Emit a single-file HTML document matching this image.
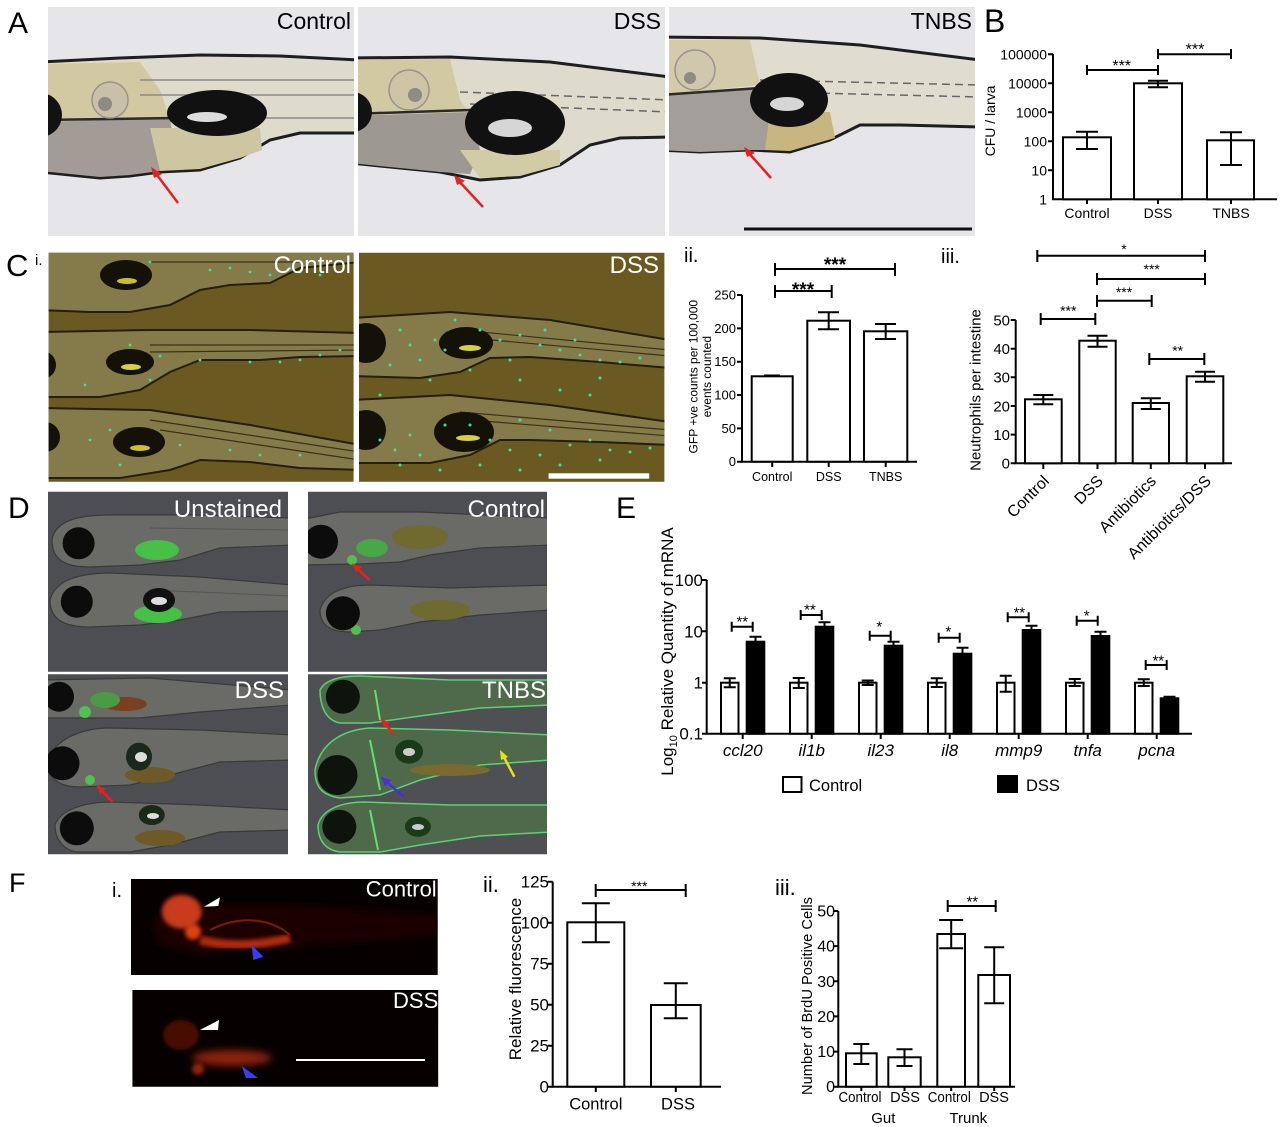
<!DOCTYPE html>
<html><head><meta charset="utf-8"><style>
html,body{margin:0;padding:0;background:#fff;}
svg{display:block;}
text{font-family:"Liberation Sans",Arial,sans-serif;}
</style></head><body>
<svg width="1280" height="1127" viewBox="0 0 1280 1127" xmlns="http://www.w3.org/2000/svg">
<defs>
<clipPath id="cA1"><rect x="48" y="7" width="306" height="229"/></clipPath>
<clipPath id="cA2"><rect x="358" y="7" width="307" height="229"/></clipPath>
<clipPath id="cA3"><rect x="669" y="7" width="306" height="229"/></clipPath>
<clipPath id="cC1"><rect x="48.6" y="252.7" width="305" height="229"/></clipPath>
<clipPath id="cC2"><rect x="359" y="252.7" width="305.4" height="229"/></clipPath>
<clipPath id="cD1"><rect x="48" y="491.7" width="240" height="180"/></clipPath>
<clipPath id="cD2"><rect x="308" y="491.7" width="239" height="180"/></clipPath>
<clipPath id="cD3"><rect x="48" y="674.3" width="240" height="180"/></clipPath>
<clipPath id="cD4"><rect x="308" y="674.3" width="239" height="180"/></clipPath>
<clipPath id="cF1"><rect x="131" y="879" width="306.7" height="96"/></clipPath>
<clipPath id="cF2"><rect x="132.3" y="990" width="306" height="96.7"/></clipPath>
<filter id="bl4" x="-50%" y="-50%" width="200%" height="200%"><feGaussianBlur stdDeviation="4"/></filter>
<filter id="bl2" x="-50%" y="-50%" width="200%" height="200%"><feGaussianBlur stdDeviation="2"/></filter>
</defs>
<rect width="1280" height="1127" fill="#fff"/>

<!-- Panel letters -->
<g font-size="30" fill="#000">
<text x="8" y="33">A</text>
<text x="984" y="32" font-size="32">B</text>
<text x="6" y="276" font-size="31">C</text>
<text x="8" y="518">D</text>
<text x="616" y="518">E</text>
<text x="9" y="892" font-size="27">F</text>
</g>

<!-- ===== Panel A photos ===== -->
<g clip-path="url(#cA1)">
<rect x="48" y="7" width="306" height="229" fill="#e6e6ea"/>
<path d="M40,62 L120,58 L200,55 L280,56 L360,60 L360,133 L300,133 L270,140 L240,158 L200,170 L160,172 L130,176 L100,178 L80,176 L40,172 Z" fill="#dedbcc" stroke="#1e1e1e" stroke-width="3"/>
<path d="M40,64 L140,62 L160,90 L170,120 L40,125 Z" fill="#d2c8a2"/>
<path d="M40,122 L170,118 L175,150 L160,171 L130,175 L100,177 L80,175 L40,171 Z" fill="#a29b96"/>
<path d="M150,128 L260,128 L262,150 L240,158 L200,169 L160,171 Z" fill="#cec6a0"/>
<path d="M140,80 L360,80 M140,95 L360,95 M160,118 L360,118" stroke="#8a8a8a" stroke-width="1.5" fill="none"/>
<path d="M40,120 L175,118" stroke="#2a2a2a" stroke-width="2.5"/>
<circle cx="40" cy="115" r="22" fill="#121212"/>
<circle cx="110" cy="100" r="18" fill="#c8c0a8" stroke="#9a9488" stroke-width="1.5"/>
<circle cx="105" cy="104" r="7" fill="#8f8a84"/>
<ellipse cx="217" cy="113" rx="50" ry="23" fill="#111"/>
<ellipse cx="207" cy="117" rx="20" ry="5" fill="#ddd"/>
<text x="351" y="29" font-size="23" text-anchor="end" fill="#000">Control</text>
<path d="M178,203 L154,171" stroke="#e8201e" stroke-width="2.5"/>
<path d="M151,167 L162,174 L154,178 Z" fill="#e8201e"/>
</g>
<g clip-path="url(#cA2)">
<rect x="358" y="7" width="307" height="229" fill="#e6e6ea"/>
<path d="M350,58 L450,57 L550,62 L670,77 L670,137 L620,138 L590,145 L560,165 L520,177 L480,180 L440,172 L400,168 L350,163 Z" fill="#dedbcc" stroke="#1e1e1e" stroke-width="3"/>
<path d="M350,60 L450,59 L460,100 L470,115 L350,118 Z" fill="#d2c8a2"/>
<path d="M350,116 L470,112 L480,150 L470,174 L440,172 L400,168 L350,163 Z" fill="#9e9893"/>
<path d="M460,150 L560,150 L560,165 L520,176 L480,178 Z" fill="#d2cca6"/>
<path d="M460,92 L670,100 M470,104 L670,112" stroke="#666" stroke-width="1.5" stroke-dasharray="8 5" fill="none"/>
<path d="M350,114 L470,110" stroke="#2a2a2a" stroke-width="2.5"/>
<circle cx="352" cy="112" r="20" fill="#121212"/>
<circle cx="409" cy="90" r="20" fill="#cdc4a6" stroke="#9a9488" stroke-width="1.5"/>
<circle cx="415" cy="95" r="7" fill="#8f8a84"/>
<ellipse cx="515" cy="123" rx="50" ry="32" fill="#111"/>
<ellipse cx="510" cy="128" rx="22" ry="9" fill="#d6d6d6"/>
<text x="661" y="29" font-size="23" text-anchor="end" fill="#000">DSS</text>
<path d="M483,207 L457,179" stroke="#e8201e" stroke-width="2.5"/>
<path d="M454,175 L465,181 L457,185 Z" fill="#e8201e"/>
</g>
<g clip-path="url(#cA3)">
<rect x="669" y="7" width="306" height="229" fill="#e6e6ea"/>
<path d="M660,37 L760,38 L860,45 L980,60 L980,127 L900,125 L860,125 L830,140 L790,152 L750,150 L700,152 L660,150 Z" fill="#e0ddd0" stroke="#1e1e1e" stroke-width="3"/>
<path d="M660,40 L750,40 L760,85 L660,95 Z" fill="#d4cbaa"/>
<path d="M660,95 L760,88 L775,120 L770,150 L750,150 L700,152 L660,150 Z" fill="#a49e9a"/>
<path d="M770,112 L830,112 L835,138 L790,151 L765,150 Z" fill="#c8b680"/>
<path d="M760,80 L980,85 M770,92 L980,97" stroke="#666" stroke-width="1.5" stroke-dasharray="8 5" fill="none"/>
<path d="M660,95 L760,88" stroke="#2a2a2a" stroke-width="2.5"/>
<circle cx="695" cy="70" r="20" fill="#d0c8ac" stroke="#9a9488" stroke-width="1.5"/>
<circle cx="690" cy="78" r="6" fill="#8f8a84"/>
<ellipse cx="789" cy="100" rx="39" ry="27" fill="#111"/>
<ellipse cx="787" cy="104" rx="17" ry="7" fill="#d6d6d6"/>
<text x="972" y="29" font-size="23" text-anchor="end" fill="#000">TNBS</text>
<path d="M771,178 L747,151" stroke="#e8201e" stroke-width="2.5"/>
<path d="M744,147 L755,153 L747,157 Z" fill="#e8201e"/>
<path d="M744,229 H972" stroke="#111" stroke-width="3"/>
</g>

<!-- ===== Panel B chart ===== -->
<g stroke="#000" stroke-width="2" fill="none">
<path d="M1053,54 V199.3 H1277"/>
<path d="M1048,54.3H1053 M1048,83.3H1053 M1048,112.3H1053 M1048,141.3H1053 M1048,170.3H1053 M1087,199.3V204 M1158,199.3V204 M1231,199.3V204"/>
<rect x="1063" y="137.3" width="48" height="62" fill="#fff"/>
<rect x="1134" y="83.3" width="48" height="116" fill="#fff"/>
<rect x="1207" y="140.3" width="47" height="59" fill="#fff"/>
<path d="M1087,131.7V149 M1076,131.7H1098 M1076,149H1098"/>
<path d="M1158,80.7V87.3 M1148,80.7H1168 M1148,87.3H1168"/>
<path d="M1231,132.3V165 M1220,132.3H1242 M1220,165H1242"/>
<path d="M1087,70H1158 M1087,65V75 M1158,65V75"/>
<path d="M1158,54.3H1231 M1158,49V59 M1231,49V59"/>
</g>
<g font-size="14" fill="#000" text-anchor="end">
<text x="1047" y="59.3">100000</text>
<text x="1047" y="88.3">10000</text>
<text x="1047" y="117.3">1000</text>
<text x="1047" y="146.3">100</text>
<text x="1047" y="175.3">10</text>
<text x="1047" y="204.3">1</text>
</g>
<g font-size="14" fill="#000" text-anchor="middle">
<text x="1087" y="218">Control</text>
<text x="1158" y="218">DSS</text>
<text x="1231" y="218">TNBS</text>
<text x="1121.7" y="71" font-size="16">***</text>
<text x="1195" y="54.3" font-size="16">***</text>
<text transform="translate(995,121) rotate(-90)">CFU / larva</text>
</g>

<!-- ===== Panel C i photos ===== -->
<text x="35" y="265" font-size="15">i.</text>
<g clip-path="url(#cC1)">
<rect x="48" y="252" width="306" height="230" fill="#6a5a22"/>
<g fill="#857b4a" stroke="#241e0c" stroke-width="2">
<path d="M40,248 L360,248 L360,262 L300,268 L270,283 L230,285 L200,290 L170,305 L130,312 L90,312 L40,310 Z"/>
<path d="M40,332 L150,330 L250,330 L360,333 L360,356 L300,357 L260,360 L200,360 L170,372 L140,390 L100,397 L40,397 Z"/>
<path d="M40,408 L150,410 L250,425 L360,445 L360,470 L300,468 L250,462 L200,460 L170,470 L120,478 L40,478 Z"/>
</g>
<path d="M150,345 L360,345 M150,352 L360,350 M150,420 L360,452 M160,430 L360,460 M150,262 L300,262" stroke="#3a3218" stroke-width="1.2" fill="none"/>
<ellipse cx="126" cy="275" rx="26" ry="15" fill="#141208"/>
<ellipse cx="127" cy="281" rx="10" ry="3" fill="#c8c030"/>
<ellipse cx="130" cy="362" rx="24" ry="13" fill="#141208"/>
<ellipse cx="131" cy="367" rx="10" ry="3" fill="#d8d040"/>
<ellipse cx="139" cy="442" rx="26" ry="15" fill="#141208"/>
<ellipse cx="140" cy="448" rx="10" ry="3" fill="#c8c030"/>
<circle cx="42" cy="365" r="14" fill="#141208"/>
<circle cx="45" cy="437" r="15" fill="#141208"/>
<g fill="#3fe0a0">
<circle cx="210" cy="270" r="1.4"/><circle cx="230" cy="268" r="1.4"/><circle cx="250" cy="272" r="1.4"/><circle cx="270" cy="275" r="1.4"/><circle cx="290" cy="268" r="1.4"/><circle cx="300" cy="272" r="1.4"/><circle cx="320" cy="275" r="1.4"/><circle cx="150" cy="262" r="1.4"/>
<circle cx="130" cy="345" r="1.4"/><circle cx="160" cy="356" r="1.4"/><circle cx="200" cy="360" r="1.4"/><circle cx="250" cy="362" r="1.4"/><circle cx="280" cy="362" r="1.4"/><circle cx="300" cy="360" r="1.4"/><circle cx="320" cy="355" r="1.4"/><circle cx="340" cy="350" r="1.4"/><circle cx="150" cy="380" r="1.4"/><circle cx="85" cy="385" r="1.4"/>
<circle cx="90" cy="440" r="1.4"/><circle cx="110" cy="430" r="1.4"/><circle cx="180" cy="445" r="1.4"/><circle cx="230" cy="450" r="1.4"/><circle cx="260" cy="455" r="1.4"/><circle cx="300" cy="455" r="1.4"/><circle cx="120" cy="465" r="1.4"/>
</g>
<text x="351" y="273" font-size="24" text-anchor="end" fill="#fff">Control</text>
</g>
<g clip-path="url(#cC2)">
<rect x="359" y="252" width="306" height="230" fill="#6a5a22"/>
<g fill="#857b4a" stroke="#241e0c" stroke-width="2">
<path d="M352,318 L450,312 L550,320 L670,340 L670,368 L600,362 L530,357 L490,358 L460,372 L420,378 L352,376 Z"/>
<path d="M352,400 L450,395 L550,405 L670,422 L670,445 L600,442 L530,440 L500,440 L470,455 L430,463 L352,463 Z"/>
</g>
<path d="M460,330 L670,350 M470,338 L670,356 M460,412 L670,430 M470,420 L670,436" stroke="#3a3218" stroke-width="1.2" fill="none"/>
<circle cx="366" cy="343" r="20" fill="#141208"/>
<circle cx="366" cy="430" r="20" fill="#141208"/>
<ellipse cx="466" cy="343" rx="27" ry="16" fill="#141208"/>
<ellipse cx="470" cy="348" rx="11" ry="3" fill="#d8d040"/>
<ellipse cx="464" cy="432" rx="30" ry="20" fill="#141208"/>
<ellipse cx="468" cy="438" rx="12" ry="3" fill="#d8d040"/>
<g fill="#3fe0a0">
<circle cx="400" cy="330" r="1.5"/><circle cx="410" cy="345" r="1.5"/><circle cx="420" cy="360" r="1.5"/><circle cx="435" cy="340" r="1.5"/><circle cx="445" cy="350" r="1.5"/><circle cx="480" cy="330" r="1.5"/><circle cx="500" cy="340" r="1.5"/><circle cx="520" cy="335" r="1.5"/><circle cx="540" cy="345" r="1.5"/><circle cx="560" cy="350" r="1.5"/><circle cx="580" cy="355" r="1.5"/><circle cx="600" cy="360" r="1.5"/><circle cx="620" cy="362" r="1.5"/><circle cx="640" cy="358" r="1.5"/><circle cx="430" cy="380" r="1.5"/><circle cx="470" cy="370" r="1.5"/><circle cx="520" cy="380" r="1.5"/><circle cx="560" cy="390" r="1.5"/><circle cx="590" cy="395" r="1.5"/><circle cx="600" cy="378" r="1.5"/><circle cx="390" cy="365" r="1.5"/><circle cx="380" cy="395" r="1.5"/><circle cx="455" cy="320" r="1.5"/><circle cx="510" cy="360" r="1.5"/><circle cx="545" cy="330" r="1.5"/><circle cx="575" cy="340" r="1.5"/>
<circle cx="380" cy="440" r="1.5"/><circle cx="395" cy="450" r="1.5"/><circle cx="410" cy="435" r="1.5"/><circle cx="420" cy="455" r="1.5"/><circle cx="445" cy="425" r="1.5"/><circle cx="470" cy="425" r="1.5"/><circle cx="490" cy="440" r="1.5"/><circle cx="510" cy="450" r="1.5"/><circle cx="520" cy="420" r="1.5"/><circle cx="550" cy="430" r="1.5"/><circle cx="570" cy="445" r="1.5"/><circle cx="590" cy="440" r="1.5"/><circle cx="610" cy="450" r="1.5"/><circle cx="630" cy="452" r="1.5"/><circle cx="650" cy="448" r="1.5"/><circle cx="540" cy="455" r="1.5"/><circle cx="560" cy="465" r="1.5"/><circle cx="520" cy="470" r="1.5"/><circle cx="400" cy="465" r="1.5"/><circle cx="440" cy="470" r="1.5"/><circle cx="480" cy="465" r="1.5"/><circle cx="600" cy="460" r="1.5"/>
</g>
<rect x="548.6" y="473.3" width="100.6" height="5.4" fill="#fff"/>
<text x="659" y="273" font-size="24" text-anchor="end" fill="#fff">DSS</text>
</g>

<!-- ===== Panel C ii chart ===== -->
<text x="684" y="262" font-size="20">ii.</text>
<g stroke="#000" stroke-width="2" fill="none">
<path d="M742,295 V461.7 H917"/>
<path d="M737,295H742 M737,328.4H742 M737,361.7H742 M737,395H742 M737,428.4H742 M737,461.7H742 M772.2,461.7V467 M828.7,461.7V467 M885.7,461.7V467"/>
<rect x="751.7" y="376.3" width="41" height="85.4" fill="#fff"/>
<rect x="807.3" y="320.7" width="42.7" height="141" fill="#fff"/>
<rect x="864" y="331.3" width="43.3" height="130.4" fill="#fff"/>
<path d="M764,375.5H780"/>
<path d="M828.7,312.3V329.3 M818,312.3H839 M818,329.3H839"/>
<path d="M885.7,324V339 M875,324H896 M875,339H896"/>
<path d="M775,291H831.7 M775,285V298 M831.7,285V298"/>
<path d="M775,269H895 M775,263V276 M895,263V276"/>
</g>
<g font-size="13" text-anchor="end">
<text x="736" y="299.5">250</text>
<text x="736" y="332.9">200</text>
<text x="736" y="366.2">150</text>
<text x="736" y="399.5">100</text>
<text x="736" y="432.9">50</text>
<text x="736" y="466.2">0</text>
</g>
<g font-size="12.5" text-anchor="middle">
<text x="772.2" y="481">Control</text>
<text x="828.7" y="481">DSS</text>
<text x="885.7" y="481">TNBS</text>
<text x="803" y="296" font-size="19" font-weight="bold">***</text>
<text x="835" y="271" font-size="19" font-weight="bold">***</text>
<text transform="translate(697.6,376.7) rotate(-90)" font-size="12">GFP +ve counts per 100,000</text>
<text transform="translate(711,376.7) rotate(-90)" font-size="12">events counted</text>
</g>

<!-- ===== Panel C iii chart ===== -->
<text x="941" y="263" font-size="20">iii.</text>
<g stroke="#000" stroke-width="2" fill="none">
<path d="M1015.7,320 V463.3 H1232"/>
<path d="M1010.7,320H1015.7 M1010.7,348.7H1015.7 M1010.7,377.3H1015.7 M1010.7,406H1015.7 M1010.7,434.6H1015.7 M1010.7,463.3H1015.7 M1043.3,463.3V469 M1097.5,463.3V469 M1150.8,463.3V469 M1205,463.3V469"/>
<rect x="1025" y="399.3" width="36.7" height="64" fill="#fff"/>
<rect x="1079.3" y="340.7" width="36.4" height="122.6" fill="#fff"/>
<rect x="1132.7" y="403" width="36.3" height="60.3" fill="#fff"/>
<rect x="1186.7" y="376.3" width="36.6" height="87" fill="#fff"/>
<path d="M1043.3,395V404.3 M1033.3,395H1053.3 M1033.3,404.3H1053.3"/>
<path d="M1097.5,335.7V346.7 M1087.5,335.7H1107.5 M1087.5,346.7H1107.5"/>
<path d="M1150.8,398.3V409 M1140.8,398.3H1160.8 M1140.8,409H1160.8"/>
<path d="M1205,371.7V381.7 M1195,371.7H1215 M1195,381.7H1215"/>
<path d="M1037.3,255.7H1205 M1037.3,250V262 M1205,250V262"/>
<path d="M1097,279H1205 M1097,273V285 M1205,273V285"/>
<path d="M1097,300.7H1151.7 M1097,295V307 M1151.7,295V307"/>
<path d="M1040.7,319H1095.3 M1040.7,313V325 M1095.3,313V325"/>
<path d="M1149.3,359H1204.3 M1149.3,353V365 M1204.3,353V365"/>
</g>
<g font-size="15" text-anchor="end">
<text x="1010" y="325.4">50</text>
<text x="1010" y="354.1">40</text>
<text x="1010" y="382.7">30</text>
<text x="1010" y="411.4">20</text>
<text x="1010" y="440">10</text>
<text x="1010" y="468.7">0</text>
</g>
<g font-size="16" text-anchor="end">
<text transform="translate(1050,482) rotate(-45)">Control</text>
<text transform="translate(1104,482) rotate(-45)">DSS</text>
<text transform="translate(1157,482) rotate(-45)">Antibiotics</text>
<text transform="translate(1212,482) rotate(-45)">Antibiotics/DSS</text>
</g>
<g font-size="14" text-anchor="middle">
<text x="1124" y="254">*</text>
<text x="1151.7" y="274">***</text>
<text x="1124" y="297">***</text>
<text x="1068.3" y="315.7">***</text>
<text x="1177.7" y="355.3">**</text>
<text transform="translate(980.5,390) rotate(-90)" font-size="15">Neutrophils per intestine</text>
</g>

<!-- ===== Panel D photos ===== -->
<g clip-path="url(#cD1)">
<rect x="48" y="491" width="240" height="181" fill="#4d4e54"/>
<g fill="#6a6a66" stroke="#3a3a36" stroke-width="1.2">
<path d="M52,540 C55,520 80,515 110,515 L200,515 L292,518 L292,545 L220,548 L180,560 L140,565 L90,567 C65,567 52,560 52,540 Z"/>
<path d="M50,600 C55,580 80,573 110,573 L200,577 L292,585 L292,611 L220,612 L180,620 L140,625 L90,627 C65,627 50,620 50,600 Z"/>
</g>
<path d="M150,528 L292,530 M150,590 L292,596" stroke="#555" stroke-width="1" fill="none"/>
<ellipse cx="157" cy="550" rx="22" ry="10" fill="#46c046"/>
<ellipse cx="158" cy="614" rx="24" ry="9" fill="#46c046"/>
<circle cx="78.6" cy="543.3" r="16" fill="#0c0c0c"/>
<circle cx="76.8" cy="601.7" r="16" fill="#0c0c0c"/>
<ellipse cx="159" cy="600" rx="16" ry="12" fill="#111"/>
<ellipse cx="159" cy="601" rx="8" ry="4" fill="#ddd"/>
<text x="282" y="517" font-size="24" text-anchor="end" fill="#fff">Unstained</text>
</g>
<g clip-path="url(#cD2)">
<rect x="308" y="491" width="239" height="181" fill="#4d4e54"/>
<g fill="#6a6a66" stroke="#3a3a36" stroke-width="1.2">
<path d="M300,520 L340,512 L420,512 L551,518 L551,545 L480,548 L430,555 L400,562 L360,564 L300,565 Z"/>
<path d="M320,610 C325,592 345,585 370,585 L450,588 L551,585 L551,610 L480,615 L420,622 L380,630 L350,632 C330,632 320,625 320,610 Z"/>
</g>
<ellipse cx="420" cy="537" rx="28" ry="12" fill="#6e6a30"/>
<ellipse cx="440" cy="610" rx="30" ry="10" fill="#6e6a30"/>
<ellipse cx="372" cy="548" rx="16" ry="9" fill="#48a848"/>
<circle cx="352" cy="560" r="5" fill="#50c050"/>
<circle cx="356" cy="630" r="5" fill="#50c050"/>
<circle cx="321" cy="541.7" r="17" fill="#0c0c0c"/>
<circle cx="342.9" cy="613.3" r="17" fill="#0c0c0c"/>
<path d="M369.6,580 L355,566.5" stroke="#e82020" stroke-width="2.5"/>
<path d="M351.8,563.3 L362,567 L356,572 Z" fill="#e82020"/>
<text x="545" y="517" font-size="24" text-anchor="end" fill="#fff">Control</text>
</g>
<g clip-path="url(#cD3)">
<rect x="48" y="674" width="240" height="181" fill="#4d4e54"/>
<g fill="#6a6a66" stroke="#3a3a36" stroke-width="1.2">
<path d="M40,680 L150,678 L292,690 L292,705 L200,712 L140,718 L40,718 Z"/>
<path d="M48,760 C55,740 80,728 110,728 L200,730 L292,735 L292,760 L220,762 L170,775 L130,785 L80,787 C60,787 48,780 48,760 Z"/>
<path d="M55,825 C60,810 85,802 110,802 L200,805 L292,810 L292,830 L220,832 L170,845 L130,852 L80,852 C65,852 55,840 55,825 Z"/>
</g>
<ellipse cx="125" cy="704" rx="22" ry="7" fill="#7a4020"/>
<ellipse cx="105" cy="700" rx="15" ry="8" fill="#4a9a46"/>
<circle cx="85" cy="712" r="6" fill="#50c050"/>
<circle cx="90" cy="780" r="5" fill="#50c050"/>
<ellipse cx="150" cy="775" rx="25" ry="8" fill="#6e5a28"/>
<ellipse cx="160" cy="838" rx="25" ry="8" fill="#6e5a28"/>
<circle cx="59" cy="696.7" r="15" fill="#0c0c0c"/>
<circle cx="62.5" cy="763.3" r="17" fill="#0c0c0c"/>
<circle cx="76.8" cy="828.3" r="17" fill="#0c0c0c"/>
<ellipse cx="139" cy="756.7" rx="13" ry="14" fill="#1a2a1a"/>
<ellipse cx="141" cy="757" rx="6" ry="5" fill="#ddd"/>
<ellipse cx="151.8" cy="815" rx="13" ry="10" fill="#1a2a1a"/>
<ellipse cx="153" cy="816" rx="6" ry="3" fill="#ddd"/>
<path d="M112.5,801.7 L99,788" stroke="#e82020" stroke-width="2.5"/>
<path d="M96.4,785 L106,789 L100,794 Z" fill="#e82020"/>
<text x="284" y="698" font-size="24" text-anchor="end" fill="#fff">DSS</text>
</g>
<g clip-path="url(#cD4)">
<rect x="308" y="674" width="239" height="181" fill="#4e5054"/>
<g fill="#4f6a4a" stroke="#5fd070" stroke-width="1.5">
<path d="M320,690 C325,680 340,676 360,676 L450,680 L551,680 L551,705 L480,708 L420,716 L370,723 L340,723 C325,720 320,705 320,690 Z"/>
<path d="M315,770 C320,745 340,730 370,728 L450,730 L551,735 L551,760 L480,765 L420,780 L380,795 L340,798 C320,795 315,785 315,770 Z"/>
<path d="M318,825 C322,810 340,802 365,802 L450,805 L551,805 L551,832 L480,836 L420,845 L380,852 L340,852 C325,850 318,840 318,825 Z"/>
</g>
<path d="M375,690 L380,720 M370,740 L380,790 M370,810 L378,850" stroke="#5fe070" stroke-width="2" fill="none"/>
<ellipse cx="450" cy="770" rx="40" ry="6" fill="#7a6a30"/>
<circle cx="342.9" cy="696.7" r="17" fill="#0c140c"/>
<circle cx="337.5" cy="775" r="20" fill="#0c140c"/>
<circle cx="339.3" cy="826.7" r="17" fill="#0c140c"/>
<ellipse cx="409" cy="751.7" rx="14" ry="12" fill="#1a3a1a"/>
<ellipse cx="409" cy="752" rx="6" ry="4" fill="#ccc"/>
<ellipse cx="417.9" cy="826.7" rx="13" ry="10" fill="#1a3a1a"/>
<ellipse cx="418" cy="827" rx="6" ry="3" fill="#ccc"/>
<path d="M394.6,735 L383,721.5" stroke="#e82020" stroke-width="2.5"/>
<path d="M380.4,718.3 L390,723 L384,727 Z" fill="#e82020"/>
<path d="M403.6,796.7 L384,779.5" stroke="#4a2ee0" stroke-width="2.5"/>
<path d="M380.4,776.7 L391,780 L385,786 Z" fill="#4a2ee0"/>
<path d="M514.3,776.7 L502,753.5" stroke="#e8e020" stroke-width="2.5"/>
<path d="M500,750 L508,757 L501,760 Z" fill="#e8e020"/>
<text x="546" y="698" font-size="24" text-anchor="end" fill="#fff">TNBS</text>
</g>

<!-- ===== Panel E chart ===== -->
<g stroke="#000" stroke-width="2" fill="none">
<path d="M706.7,580 V733.7 H1192"/>
<path d="M702,580H706.7 M702,631.3H706.7 M702,682.7H706.7 M702,733.7H706.7 M742.7,733.7V739 M811.7,733.7V739 M880.7,733.7V739 M949.7,733.7V739 M1018.7,733.7V739 M1087.7,733.7V739 M1156.7,733.7V739"/>
<g fill="#fff">
<rect x="721" y="682.7" width="17.5" height="51"/>
<rect x="790" y="682.7" width="17.5" height="51"/>
<rect x="859" y="682.7" width="17.5" height="51"/>
<rect x="928" y="682.7" width="17.5" height="51"/>
<rect x="997" y="682.7" width="17.5" height="51"/>
<rect x="1066" y="682.7" width="17.5" height="51"/>
<rect x="1135" y="682.7" width="17.5" height="51"/>
</g>
<g fill="#000">
<rect x="746.7" y="641.7" width="17.6" height="92"/>
<rect x="815.7" y="626.7" width="17.6" height="107"/>
<rect x="884.7" y="645.7" width="17.6" height="88"/>
<rect x="953.7" y="653.7" width="17.6" height="80"/>
<rect x="1022.7" y="630" width="17.6" height="103.7"/>
<rect x="1091.7" y="636" width="17.6" height="97.7"/>
<rect x="1160.7" y="698.3" width="17.6" height="35.4"/>
</g>
<path d="M729.75,678.3V687.3 M723.75,678.3H735.75 M723.75,687.3H735.75"/>
<path d="M798.75,678V688 M792.75,678H804.75 M792.75,688H804.75"/>
<path d="M867.75,680.5V685 M861.75,680.5H873.75 M861.75,685H873.75"/>
<path d="M936.75,678.3V687 M930.75,678.3H942.75 M930.75,687H942.75"/>
<path d="M1005.75,675.7V691.7 M999.75,675.7H1011.75 M999.75,691.7H1011.75"/>
<path d="M1074.75,679V686 M1068.75,679H1080.75 M1068.75,686H1080.75"/>
<path d="M1143.75,679.3V686 M1137.75,679.3H1149.75 M1137.75,686H1149.75"/>
<path d="M755.5,641.7V636.7 M749.5,636.7H761.5"/>
<path d="M824.5,626.7V622.3 M818.5,622.3H830.5"/>
<path d="M893.5,645.7V641.7 M887.5,641.7H899.5"/>
<path d="M962.5,653.7V647.7 M956.5,647.7H968.5"/>
<path d="M1031.5,630V625.7 M1025.5,625.7H1037.5"/>
<path d="M1100.5,636V631.7 M1094.5,631.7H1106.5"/>
<path d="M1169.5,698.3V696.7 M1163.5,696.7H1175.5"/>
<path d="M731.7,626.7H752.7 M731.7,621.7V631.7 M752.7,621.7V631.7"/>
<path d="M800.7,615H821.7 M800.7,610V620 M821.7,610V620"/>
<path d="M869.7,635.7H890.7 M869.7,630.7V640.7 M890.7,630.7V640.7"/>
<path d="M938.7,637.7H959.7 M938.7,632.7V642.7 M959.7,632.7V642.7"/>
<path d="M1007.7,617.3H1028.7 M1007.7,612.3V622.3 M1028.7,612.3V622.3"/>
<path d="M1076.7,620.7H1097.7 M1076.7,615.7V625.7 M1097.7,615.7V625.7"/>
<path d="M1145.7,665H1166.7 M1145.7,660V670 M1166.7,660V670"/>
<rect x="783" y="777" width="18.5" height="15" fill="#fff"/>
<rect x="998" y="776" width="19" height="16" fill="#000"/>
</g>
<g font-size="17" text-anchor="end">
<text x="703" y="586">100</text>
<text x="703" y="637.3">10</text>
<text x="703" y="688.7">1</text>
<text x="703" y="739.7">0.1</text>
</g>
<g font-size="17" text-anchor="middle" font-style="italic">
<text x="742.7" y="756">ccl20</text>
<text x="811.7" y="756">il1b</text>
<text x="880.7" y="756">il23</text>
<text x="949.7" y="756">il8</text>
<text x="1018.7" y="756">mmp9</text>
<text x="1087.7" y="756">tnfa</text>
<text x="1156.7" y="756">pcna</text>
</g>
<g font-size="15" text-anchor="middle">
<text x="742.3" y="626.7">**</text>
<text x="810" y="614.7">**</text>
<text x="879.3" y="631.4">*</text>
<text x="948.3" y="636.7">*</text>
<text x="1019.3" y="617.7">**</text>
<text x="1086.7" y="620.4">*</text>
<text x="1158.3" y="665.4">**</text>
</g>
<text x="809" y="791" font-size="16.5">Control</text>
<text x="1026" y="791" font-size="16.5">DSS</text>
<text transform="translate(672.8,651.5) rotate(-90)" font-size="17" text-anchor="middle">Log<tspan font-size="11" dy="4">10</tspan><tspan dy="-4"> Relative Quantity of mRNA</tspan></text>

<!-- ===== Panel F i photos ===== -->
<text x="112" y="897" font-size="20">i.</text>
<g clip-path="url(#cF1)">
<rect x="131" y="879" width="307" height="96" fill="#060000"/>
<path d="M150,920 L200,905 L300,905 L437,915 L437,935 L320,945 L260,950 L200,955 L160,945 Z" fill="#1c0402" filter="url(#bl4)"/>
<ellipse cx="181.7" cy="911.7" rx="20" ry="17" fill="#c83a1a" filter="url(#bl2)"/>
<circle cx="193" cy="931.7" r="8" fill="#e04018" filter="url(#bl2)"/>
<path d="M200,940 C230,948 260,945 290,938" stroke="#b02a10" stroke-width="9" fill="none" filter="url(#bl2)"/>
<path d="M290,938 L340,938" stroke="#6a1808" stroke-width="5" fill="none" filter="url(#bl2)"/>
<path d="M210,930 C240,915 270,918 290,935" stroke="#7a1a08" stroke-width="2" fill="none"/>
<path d="M204,906.7 L220,897.3 L218.3,906 Z" fill="#fff"/>
<path d="M251.7,945 L263.3,956.7 L253.3,960 Z" fill="#3a3aff"/>
<text x="436.7" y="896.7" font-size="22" text-anchor="end" fill="#fff">Control</text>
</g>
<g clip-path="url(#cF2)">
<rect x="132.3" y="990" width="306" height="97" fill="#060000"/>
<ellipse cx="181" cy="1035" rx="18" ry="15" fill="#4a0c06" filter="url(#bl2)"/>
<ellipse cx="232" cy="1058" rx="40" ry="8" fill="#8a2010" filter="url(#bl4)"/>
<circle cx="198" cy="1069" r="6" fill="#902010" filter="url(#bl2)"/>
<path d="M200,1030 L219,1020 L218,1030 Z" fill="#fff"/>
<path d="M241.7,1066 L258,1078 L246,1078 Z" fill="#3a3aff"/>
<path d="M296,1060 H425" stroke="#fff" stroke-width="2"/>
<text x="438.3" y="1008" font-size="22" text-anchor="end" fill="#fff">DSS</text>
</g>

<!-- ===== Panel F ii chart ===== -->
<text x="483" y="892" font-size="22">ii.</text>
<g stroke="#000" stroke-width="2" fill="none">
<path d="M552.7,881.7 V1086.7 H721"/>
<path d="M547.7,881.7H552.7 M547.7,922.7H552.7 M547.7,963.7H552.7 M547.7,1004.7H552.7 M547.7,1045.7H552.7 M547.7,1086.7H552.7 M595.8,1086.7V1092 M675.8,1086.7V1092"/>
<rect x="567.3" y="922.3" width="57" height="164.4" fill="#fff"/>
<rect x="651" y="1005" width="49.7" height="81.7" fill="#fff"/>
<path d="M595.8,903.3V942.3 M581.8,903.3H609.8 M581.8,942.3H609.8"/>
<path d="M675.8,983.3V1018.3 M663.8,983.3H687.8 M663.8,1018.3H687.8"/>
<path d="M595.7,890H685.7 M595.7,884V897 M685.7,884V897"/>
</g>
<g font-size="17" text-anchor="end">
<text x="549" y="887.7">125</text>
<text x="549" y="928.7">100</text>
<text x="549" y="969.7">75</text>
<text x="549" y="1010.7">50</text>
<text x="549" y="1051.7">25</text>
<text x="549" y="1092.7">0</text>
</g>
<g text-anchor="middle">
<text x="595.8" y="1109.5" font-size="16.5">Control</text>
<text x="678" y="1109.5" font-size="16.5">DSS</text>
<text x="639.3" y="891" font-size="14">***</text>
<text transform="translate(521.2,979) rotate(-90)" font-size="17">Relative fluorescence</text>
</g>

<!-- ===== Panel F iii chart ===== -->
<text x="775" y="895" font-size="22">iii.</text>
<g stroke="#000" stroke-width="2" fill="none">
<path d="M838.3,911 V1086.7 H1015"/>
<path d="M833.3,911H838.3 M833.3,946.1H838.3 M833.3,981.3H838.3 M833.3,1016.4H838.3 M833.3,1051.6H838.3 M833.3,1086.7H838.3 M861.3,1086.7V1091 M904.5,1086.7V1091 M951.2,1086.7V1091 M994.2,1086.7V1091"/>
<rect x="846" y="1053.3" width="30.7" height="33.4" fill="#fff"/>
<rect x="888.3" y="1057.3" width="32.4" height="29.4" fill="#fff"/>
<rect x="937.3" y="934" width="27.7" height="152.7" fill="#fff"/>
<rect x="978.3" y="975" width="31.7" height="111.7" fill="#fff"/>
<path d="M861.3,1044V1064 M853.3,1044H869.3 M853.3,1064H869.3"/>
<path d="M904.5,1049.3V1066 M896.5,1049.3H912.5 M896.5,1066H912.5"/>
<path d="M951.2,920V948.3 M939.2,920H963.2 M939.2,948.3H963.2"/>
<path d="M994.2,947.3V1003.3 M984.2,947.3H1004.2 M984.2,1003.3H1004.2"/>
<path d="M947.7,906H995.7 M947.7,900V912 M995.7,900V912"/>
</g>
<g font-size="16" text-anchor="end">
<text x="835" y="916.5">50</text>
<text x="835" y="951.6">40</text>
<text x="835" y="986.8">30</text>
<text x="835" y="1021.9">20</text>
<text x="835" y="1057.1">10</text>
<text x="835" y="1092.2">0</text>
</g>
<g font-size="14.5" text-anchor="middle">
<text x="860" y="1102" textLength="43" lengthAdjust="spacingAndGlyphs">Control</text>
<text x="905" y="1102">DSS</text>
<text x="949.3" y="1102" textLength="43" lengthAdjust="spacingAndGlyphs">Control</text>
<text x="994" y="1102">DSS</text>
<text x="883.3" y="1123" font-size="15">Gut</text>
<text x="968.3" y="1123" font-size="15">Trunk</text>
<text x="972.3" y="906.7" font-size="15">**</text>
<text transform="translate(812,996) rotate(-90)" font-size="15" textLength="198" lengthAdjust="spacingAndGlyphs">Number of BrdU Positive Cells</text>
</g>
</svg>
</body></html>
